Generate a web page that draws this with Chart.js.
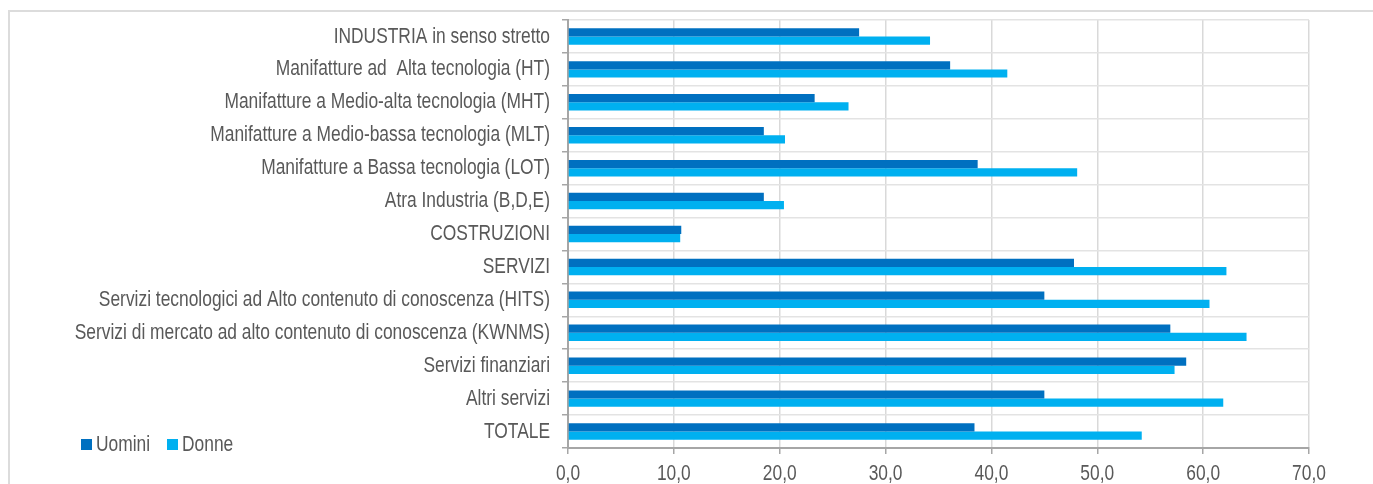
<!DOCTYPE html>
<html>
<head>
<meta charset="utf-8">
<script src="https://cdn.jsdelivr.net/npm/chart.js@4.4.1/dist/chart.umd.min.js"></script>
<style>
  html, body { margin: 0; padding: 0; background: #fff; }
  #wrap { position: relative; width: 1373px; height: 484px; overflow: hidden; }
  #frame { position: absolute; left: 8px; top: 10px; width: 1400px; height: 500px;
           border-left: 2px solid #dcdcdc; border-top: 2px solid #dcdcdc; box-sizing: border-box; }
  #c { position: absolute; left: 0; top: 0; }
  .lg-sw { position: absolute; width: 11px; height: 11px; }
  .lg-tx { position: absolute; font-family: 'Liberation Sans', Arial, sans-serif; font-size: 22px; line-height: 26px;
           color: #595959; transform: scaleX(0.79); transform-origin: 0 50%; white-space: nowrap; }
</style>
</head>
<body>
<div id="wrap">
  <div id="frame"></div>
  <canvas id="c" width="1373" height="484"></canvas>
</div>
<script>
const categories = [
  "INDUSTRIA in senso stretto",
  "Manifatture ad  Alta tecnologia (HT)",
  "Manifatture a Medio-alta tecnologia (MHT)",
  "Manifatture a Medio-bassa tecnologia (MLT)",
  "Manifatture a Bassa tecnologia (LOT)",
  "Atra Industria (B,D,E)",
  "COSTRUZIONI",
  "SERVIZI",
  "Servizi tecnologici ad Alto contenuto di conoscenza (HITS)",
  "Servizi di mercato ad alto contenuto di conoscenza (KWNMS)",
  "Servizi finanziari",
  "Altri servizi",
  "TOTALE"
];
const seriesNames = ["Uomini", "Donne"];
const uomini = [27.5, 36.1, 23.3, 18.5, 38.7, 18.5, 10.7, 47.8, 45.0, 56.9, 58.4, 45.0, 38.4];
const donne  = [34.2, 41.5, 26.5, 20.5, 48.1, 20.4, 10.6, 62.2, 60.6, 64.1, 57.3, 61.9, 54.2];
const xMin = 0, xMax = 70, xStep = 10;
const colors = ["#0070C0", "#00B0F0"];

const FONT = "'Liberation Sans', Arial, sans-serif";
const SX = 0.79; // horizontal condensing to imitate a narrow typeface

// HTML legend (real text)
const wrap = document.getElementById('wrap');
const legendPos = [{ sw: 81, tx: 96 }, { sw: 167, tx: 182 }];
seriesNames.forEach((n, i) => {
  const sw = document.createElement('div'); sw.className = 'lg-sw';
  sw.style.left = legendPos[i].sw + 'px'; sw.style.top = '439px'; sw.style.background = colors[i];
  const tx = document.createElement('div'); tx.className = 'lg-tx';
  tx.style.left = legendPos[i].tx + 'px'; tx.style.top = '431px'; tx.textContent = n;
  wrap.appendChild(sw); wrap.appendChild(tx);
});

// Plugin: draw axis tick labels horizontally condensed (still real canvas text)
const condense = {
  id: 'condense',
  beforeDraw(chart) {
    ['x', 'y'].forEach(id => {
      const sc = chart.scales[id];
      if (!sc || sc._condensed) return;
      const orig = sc.drawLabels;
      sc.drawLabels = function (area) {
        const c = this.ctx;
        const ft = c.fillText;
        c.fillText = function (t, x, y) {
          c.save(); c.translate(x, y); c.scale(SX, 1); ft.call(c, t, 0, 0); c.restore();
        };
        try { orig.call(this, area); } finally { c.fillText = ft; }
      };
      sc._condensed = true;
    });
  }
};

const ctx = document.getElementById('c').getContext('2d');
new Chart(ctx, {
  type: 'bar',
  data: {
    labels: categories,
    datasets: [
      { label: seriesNames[0], data: uomini, backgroundColor: colors[0], borderWidth: 0 },
      { label: seriesNames[1], data: donne, backgroundColor: colors[1], borderWidth: 0 }
    ]
  },
  options: {
    indexAxis: 'y',
    responsive: false,
    animation: false,
    devicePixelRatio: 1,
    categoryPercentage: 0.5,
    barPercentage: 1.0,
    layout: { padding: { left: 0, right: 64, top: 20, bottom: 0 } },
    plugins: { legend: { display: false }, tooltip: { enabled: false } },
    scales: {
      x: {
        min: xMin, max: xMax,
        ticks: {
          stepSize: xStep,
          color: '#595959',
          font: { family: FONT, size: 22 },
          padding: 7,
          callback: v => v.toFixed(1).replace('.', ',')
        },
        grid: { color: '#d9d9d9', lineWidth: 1.5, tickColor: '#a6a6a6', tickLength: 6, drawTicks: true },
        border: { color: '#a6a6a6', width: 2 },
        afterFit: s => { s.height = 36; s.paddingLeft = 0; s.paddingRight = 0; }
      },
      y: {
        ticks: {
          color: '#595959',
          font: { family: FONT, size: 22 },
          padding: 12,
          autoSkip: false
        },
        grid: { color: '#e3e3e3', lineWidth: 1.5, tickColor: '#a6a6a6', tickLength: 6, offset: true },
        border: { color: '#a6a6a6', width: 2 },
        afterFit: s => { s.width = 568; s.paddingTop = 0; s.paddingBottom = 0; }
      }
    }
  },
  plugins: [condense]
});
</script>
</body>
</html>
